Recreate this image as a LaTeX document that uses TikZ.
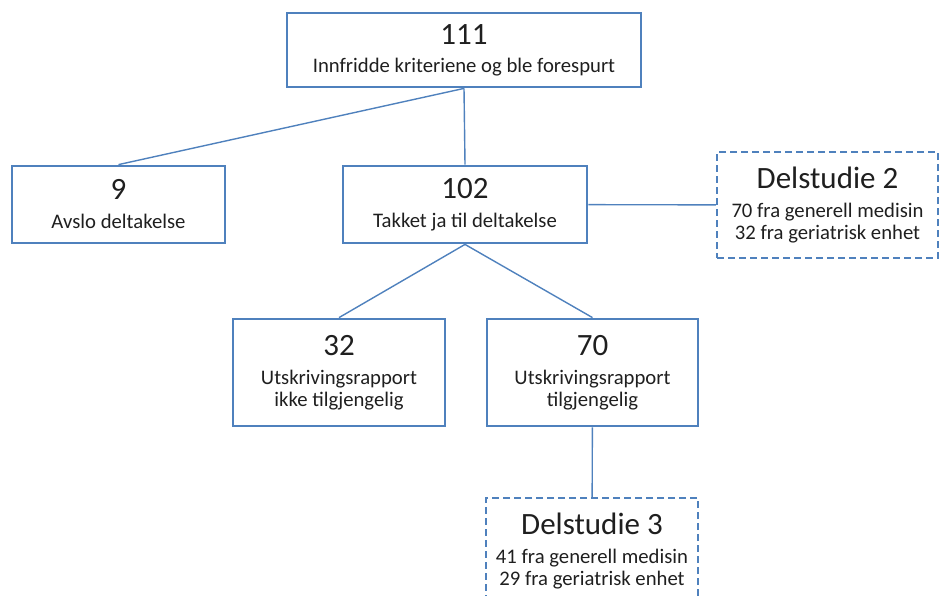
\documentclass[tikz,border=0pt]{standalone}
\usepackage{fontspec}
\setmainfont{Carlito}
\usetikzlibrary{positioning}
\definecolor{officeblaa}{RGB}{79,129,189}
\tikzstyle{boks}=[draw=officeblaa, line width=2.8pt, align=center, inner sep=0pt, text=black!88, font=\fontsize{20.7}{22}\selectfont]
\tikzstyle{stiplet}=[boks, line width=2.4pt, dash pattern=on 7pt off 4pt]
\tikzstyle{linje}=[draw=officeblaa, line width=1.4pt]
\newcommand{\storttall}[1]{{\fontsize{31}{31}\selectfont #1}}

\begin{document}
\begin{tikzpicture}[x=1pt, y=-1pt]
    \clip (0,0) rectangle (941,595);
    \node		[boks, minimum width=354pt, minimum height=74pt]		(A) at (464,50)  {\storttall{111}\\[6pt] Innfridde kriteriene og ble forespurt};
	\node		[boks, minimum width=213pt, minimum height=77pt]		(B) at (118.5,204.5) {\storttall{9}\\[7pt] Avslo deltakelse};
	\node		[boks, minimum width=244pt, minimum height=77pt]		(C) at (465,204.5) {\storttall{102}\\[7pt] Takket ja til deltakelse};
	\node       [stiplet, minimum width=221pt, minimum height=106pt]  (D) at (827.5,205) {\storttall{Delstudie 2}\\[7pt] 70 fra generell medisin\\ 32 fra geriatrisk enhet};
	\node       [boks, minimum width=212pt, minimum height=107pt]  (E) at (339,372.5) {\storttall{32}\\[7pt] Utskrivingsrapport\\ ikke tilgjengelig};
	\node       [boks, minimum width=211pt, minimum height=107pt]  (F) at (592.5,372.5) {\storttall{70}\\[7pt] Utskrivingsrapport\\ tilgjengelig};
	\node       [stiplet, minimum width=212pt, minimum height=106pt]  (G) at (592,551) {\storttall{Delstudie 3}\\[7pt] 41 fra generell medisin\\ 29 fra geriatrisk enhet};
	\draw[linje] (A.south)--(B.north);
	\draw[linje] (A.south)--(C.north);
	\draw[linje] (C)--(D);
	\draw[linje] (C.south)--(E.north);
	\draw[linje] (C.south)--(F.north);
	\draw[linje] (F)--(G);
\end{tikzpicture}
\end{document}
